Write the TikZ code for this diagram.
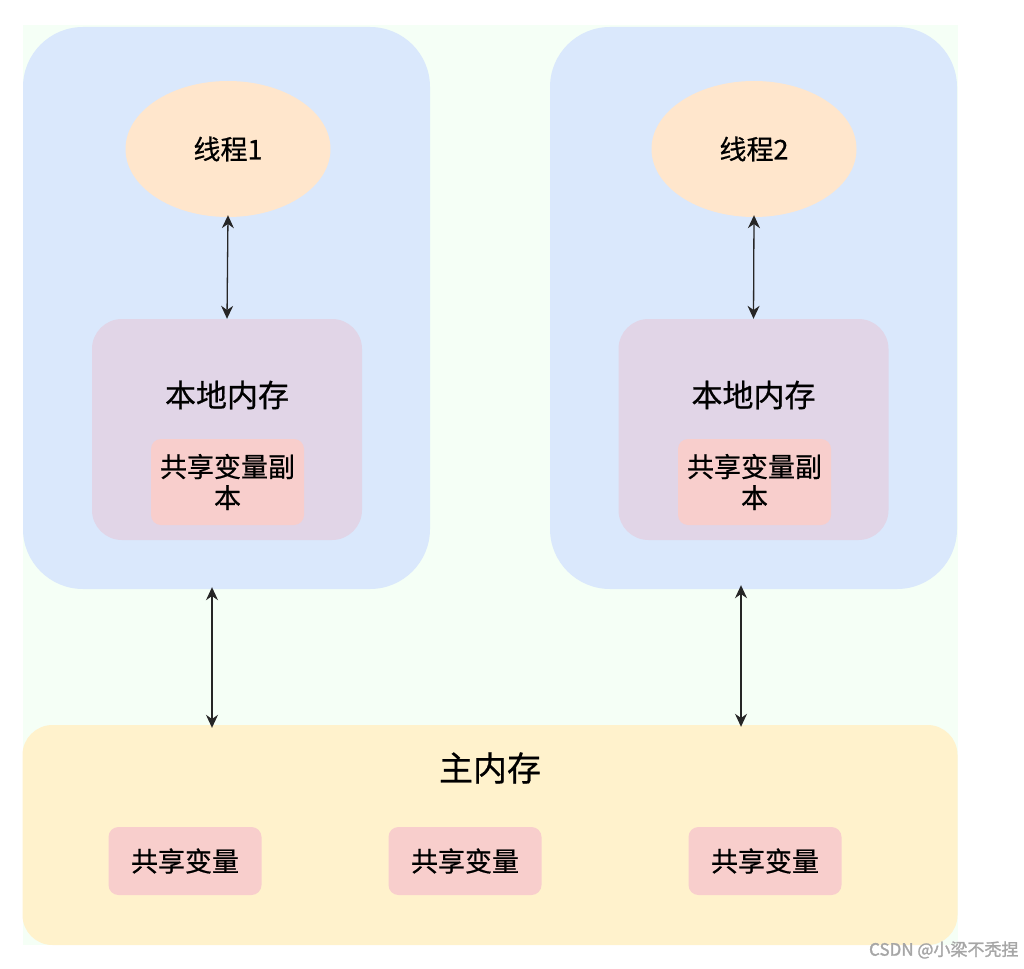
\documentclass[tikz,border=0pt]{standalone}
\usepackage{fontspec}
\setmainfont{Noto Sans CJK SC}[FakeBold=1.5,AutoFakeBold=1.5]
\usetikzlibrary{arrows.meta,shapes.geometric}
\definecolor{bgGreen}{HTML}{F5FFF6}
\definecolor{threadBlue}{HTML}{DAE8FC}
\definecolor{threadOrange}{HTML}{FFE6CC}
\definecolor{localPurple}{HTML}{E1D5E7}
\definecolor{varPink}{HTML}{F8CECC}
\definecolor{mainYellow}{HTML}{FFF2CC}
\newfontfamily\medfont{Noto Sans CJK SC}[FakeBold=0.6]
\tikzset{
  box/.style={rectangle,draw=none,inner sep=0pt},
  threadbox/.style={box,fill=threadBlue,rounded corners=60pt,minimum width=407pt,minimum height=562pt},
  localbox/.style={box,fill=localPurple,rounded corners=30pt,minimum width=270pt,minimum height=221pt},
  copybox/.style={box,fill=varPink,rounded corners=10pt,minimum width=153pt,minimum height=86pt,align=center,font=\medfont\fontsize{27pt}{31pt}\selectfont},
  varbox/.style={box,fill=varPink,rounded corners=10pt,minimum width=153pt,minimum height=68pt,font=\medfont\fontsize{27pt}{30pt}\selectfont},
  thread/.style={ellipse,fill=threadOrange,draw=none,minimum width=205pt,minimum height=136pt,font=\medfont\fontsize{27pt}{30pt}\selectfont},
  link/.style={{Stealth[length=13pt,width=12pt]}-{Stealth[length=13pt,width=12pt]},line width=1.3pt,draw=black!85},
}
\begin{document}
\begin{tikzpicture}[x=1pt,y=-1pt]
      \useasboundingbox (0,0) rectangle (1024,968);
      \fill[bgGreen] (23,25) rectangle (958,945);
      \draw
        (226.5,308) node[threadbox] (t1box){}
        (753.5,308) node[threadbox] (t2box){}
        (490,835) node[box,fill=mainYellow,rounded corners=30pt,minimum width=935pt,minimum height=220pt] (main){};
      \draw
        (228,149) node[thread] (t1){线程1}
        (754,149) node[thread] (t2){线程2}
        (227,429.5) node[localbox] (l1){}
        (753.5,429.5) node[localbox] (l2){}
        (227,395) node[font=\medfont\fontsize{31pt}{34pt}\selectfont] (l1txt){本地内存}
        (753.5,395) node[font=\medfont\fontsize{31pt}{34pt}\selectfont] (l2txt){本地内存}
        (227.5,482) node[copybox] (c1){共享变量副\\本}
        (754.5,482) node[copybox] (c2){共享变量副\\本}
        (490,768) node[font=\medfont\fontsize{34pt}{38pt}\selectfont] (maintxt){主内存}
        (185,861) node[varbox] (v1){共享变量}
        (465,861) node[varbox] (v2){共享变量}
        (765,861) node[varbox] (v3){共享变量}
        (1022,950) node[anchor=east,text=gray!70,font=\fontsize{17pt}{20pt}\selectfont] (mark){CSDN @小梁不秃捏};
      \begin{scope}[link]
        \draw ([yshift=2]t1.south) to (l1.north);
        \draw ([yshift=2]t2.south) to (l2.north);
        \draw ([xshift=-14.5,yshift=2]t1box.south) to ([xshift=-14.5,yshift=-3]t1box.south |- main.north);
        \draw ([xshift=-12.5,yshift=4]t2box.south) to ([xshift=-12.5,yshift=-2]t2box.south |- main.north);
      \end{scope}
    \end{tikzpicture}
\end{document}
